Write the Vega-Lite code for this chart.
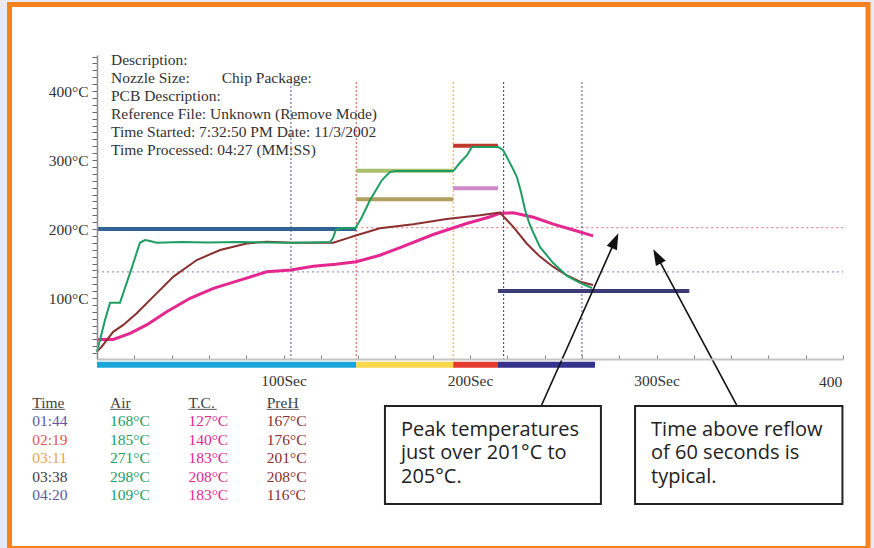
{
  "$schema": "https://vega.github.io/schema/vega-lite/v6.json",
  "width": 746,
  "height": 304,
  "autosize": {"type": "none"},
  "padding": {"left": 97, "top": 55, "right": 31, "bottom": 189},
  "background": "#e9e9f3",
  "config": {"view": {"stroke": null}, "font": "Liberation Serif", "axis": {"labelOverlap": false, "labelFlush": false, "labelBound": false}},
  "datasets": {
    "curves": [
      {"series": "Air", "t": 0, "temp": 22}, {"series": "Air", "t": 1.6, "temp": 39}, {"series": "Air", "t": 4.3, "temp": 68}, {"series": "Air", "t": 7, "temp": 93}, {"series": "Air", "t": 12.3, "temp": 93}, {"series": "Air", "t": 17.7, "temp": 136}, {"series": "Air", "t": 23, "temp": 180}, {"series": "Air", "t": 25.7, "temp": 184}, {"series": "Air", "t": 28.4, "temp": 182.5}, {"series": "Air", "t": 32, "temp": 180}, {"series": "Air", "t": 45, "temp": 181}, {"series": "Air", "t": 60, "temp": 180.5}, {"series": "Air", "t": 75, "temp": 181}, {"series": "Air", "t": 90, "temp": 180.5}, {"series": "Air", "t": 105, "temp": 180}, {"series": "Air", "t": 115, "temp": 180.5}, {"series": "Air", "t": 125, "temp": 181}, {"series": "Air", "t": 126.5, "temp": 187}, {"series": "Air", "t": 128, "temp": 198.5}, {"series": "Air", "t": 130.3, "temp": 201}, {"series": "Air", "t": 138.5, "temp": 201}, {"series": "Air", "t": 142, "temp": 217}, {"series": "Air", "t": 146.4, "temp": 242}, {"series": "Air", "t": 152.8, "temp": 271}, {"series": "Air", "t": 157, "temp": 282.5}, {"series": "Air", "t": 159.8, "temp": 284}, {"series": "Air", "t": 175, "temp": 284}, {"series": "Air", "t": 191, "temp": 284}, {"series": "Air", "t": 194.6, "temp": 296}, {"series": "Air", "t": 198.4, "temp": 307}, {"series": "Air", "t": 201, "temp": 319}, {"series": "Air", "t": 215, "temp": 319}, {"series": "Air", "t": 217.7, "temp": 314.5}, {"series": "Air", "t": 219.8, "temp": 304}, {"series": "Air", "t": 222.5, "temp": 290}, {"series": "Air", "t": 225.2, "temp": 275}, {"series": "Air", "t": 227.3, "temp": 254}, {"series": "Air", "t": 229.5, "temp": 228}, {"series": "Air", "t": 231.6, "temp": 210}, {"series": "Air", "t": 233.2, "temp": 199}, {"series": "Air", "t": 237.5, "temp": 174}, {"series": "Air", "t": 244.5, "temp": 151}, {"series": "Air", "t": 252, "temp": 132}, {"series": "Air", "t": 259, "temp": 122}, {"series": "Air", "t": 265.4, "temp": 114.5},
      {"series": "PreH", "t": 0, "temp": 22}, {"series": "PreH", "t": 0.7, "temp": 24.6}, {"series": "PreH", "t": 2.5, "temp": 29.4}, {"series": "PreH", "t": 5.2, "temp": 39}, {"series": "PreH", "t": 8.7, "temp": 51}, {"series": "PreH", "t": 14.1, "temp": 61}, {"series": "PreH", "t": 21.3, "temp": 78}, {"series": "PreH", "t": 30.2, "temp": 102}, {"series": "PreH", "t": 41, "temp": 131}, {"series": "PreH", "t": 53.5, "temp": 155}, {"series": "PreH", "t": 66, "temp": 169.6}, {"series": "PreH", "t": 80.3, "temp": 179}, {"series": "PreH", "t": 91, "temp": 181.6}, {"series": "PreH", "t": 105, "temp": 180}, {"series": "PreH", "t": 116, "temp": 180}, {"series": "PreH", "t": 126.7, "temp": 180}, {"series": "PreH", "t": 134, "temp": 186.5}, {"series": "PreH", "t": 139.2, "temp": 191}, {"series": "PreH", "t": 151.7, "temp": 201}, {"series": "PreH", "t": 169.6, "temp": 207}, {"series": "PreH", "t": 187.5, "temp": 214.5}, {"series": "PreH", "t": 205.4, "temp": 220}, {"series": "PreH", "t": 216, "temp": 224}, {"series": "PreH", "t": 223.2, "temp": 203}, {"series": "PreH", "t": 230.4, "temp": 179}, {"series": "PreH", "t": 237.5, "temp": 160}, {"series": "PreH", "t": 244.7, "temp": 145}, {"series": "PreH", "t": 251.8, "temp": 133}, {"series": "PreH", "t": 259, "temp": 123.6}, {"series": "PreH", "t": 266, "temp": 118.8},
      {"series": "T.C.", "t": 0, "temp": 40}, {"series": "T.C.", "t": 8.7, "temp": 40}, {"series": "T.C.", "t": 17.7, "temp": 48.8}, {"series": "T.C.", "t": 26.6, "temp": 61}, {"series": "T.C.", "t": 37.4, "temp": 80}, {"series": "T.C.", "t": 49.9, "temp": 99.6}, {"series": "T.C.", "t": 62.4, "temp": 114}, {"series": "T.C.", "t": 76.7, "temp": 126}, {"series": "T.C.", "t": 91, "temp": 138}, {"series": "T.C.", "t": 104, "temp": 140.6}, {"series": "T.C.", "t": 116, "temp": 146}, {"series": "T.C.", "t": 128, "temp": 149}, {"series": "T.C.", "t": 139, "temp": 152.6}, {"series": "T.C.", "t": 151.7, "temp": 162}, {"series": "T.C.", "t": 162.5, "temp": 173}, {"series": "T.C.", "t": 180.3, "temp": 192}, {"series": "T.C.", "t": 198.2, "temp": 208}, {"series": "T.C.", "t": 210, "temp": 217}, {"series": "T.C.", "t": 216, "temp": 222.7}, {"series": "T.C.", "t": 223.2, "temp": 223.6}, {"series": "T.C.", "t": 234, "temp": 217}, {"series": "T.C.", "t": 244.7, "temp": 207}, {"series": "T.C.", "t": 255.4, "temp": 198.6}, {"series": "T.C.", "t": 266, "temp": 190}
    ],
    "setpoints": [
      {"name": "Preheat", "start": 0, "end": 139, "temp": 200},
      {"name": "Soak Air", "start": 139, "end": 191, "temp": 284.5},
      {"name": "Soak T.C.", "start": 139, "end": 191, "temp": 243},
      {"name": "Reflow Air", "start": 191, "end": 215, "temp": 320.7},
      {"name": "Reflow T.C.", "start": 191, "end": 215, "temp": 259},
      {"name": "Cool", "start": 215, "end": 317.6, "temp": 110}
    ],
    "zones": [
      {"zone": "Preheat", "start": 0, "end": 139},
      {"zone": "Soak", "start": 139, "end": 191},
      {"zone": "Reflow", "start": 191, "end": 215},
      {"zone": "Cool", "start": 215, "end": 267}
    ],
    "markers": [
      {"time": "01:44", "t": 104}, {"time": "02:19", "t": 139}, {"time": "03:11", "t": 191}, {"time": "03:38", "t": 218}, {"time": "04:20", "t": 260}
    ],
    "readings": [
      {"row": 1, "time": "01:44", "air": "168°C", "tc": "127°C", "preh": "167°C"},
      {"row": 2, "time": "02:19", "air": "185°C", "tc": "140°C", "preh": "176°C"},
      {"row": 3, "time": "03:11", "air": "271°C", "tc": "183°C", "preh": "201°C"},
      {"row": 4, "time": "03:38", "air": "298°C", "tc": "208°C", "preh": "208°C"},
      {"row": 5, "time": "04:20", "air": "109°C", "tc": "183°C", "preh": "116°C"}
    ]
  },
  "resolve": {"scale": {"y": "independent"}},
  "layer": [
    {
      "layer": [
        {
          "data": {"values": [{}]},
          "mark": {"type": "rect", "fill": "white", "stroke": "#f5821f", "strokeWidth": 5},
          "encoding": {
            "x": {"datum": -46.9, "type": "quantitative", "scale": {"domain": [0, 400], "nice": false, "zero": false}, "title": null,
              "axis": {"values": [0, 20, 40, 60, 80, 100, 120, 140, 160, 180, 200, 220, 240, 260, 280, 300, 320, 340, 360, 380, 400],
                "tickCount": 200,
                "labelExpr": "datum.value % 100 == 0 && datum.value > 0 && datum.value < 400 ? datum.value + 'Sec' : ''",
                "labelFontSize": {"condition": {"test": "datum.value % 100 == 0 && datum.value > 0 && datum.value < 400", "value": 15.5}, "value": 0},
                "tickSize": -4, "tickColor": "#8a8a8a", "tickWidth": 1, "domainColor": "#c4c4c4", "domainWidth": 2,
                "labelColor": "#333", "labelFont": "Liberation Serif", "labelPadding": 18.7,
                "labelFlush": false, "labelOverlap": false, "labelBound": false, "grid": false, "zindex": 1}},
            "x2": {"datum": 413.4},
            "y": {"datum": 525.4, "type": "quantitative", "scale": {"domain": [11.6, 452.2], "nice": false, "zero": false}, "title": null,
              "axis": {"values": [20, 30, 40, 50, 60, 70, 80, 90, 100, 110, 120, 130, 140, 150, 160, 170, 180, 190, 200, 210, 220, 230, 240, 250, 260, 270, 280, 290, 300, 310, 320, 330, 340, 350, 360, 370, 380, 390, 400, 410, 420, 430, 440, 450],
                "tickCount": 200,
                "labelExpr": "datum.value % 100 == 0 ? datum.value + '°C' : ''",
                "labelFontSize": {"condition": {"test": "datum.value % 100 == 0", "value": 15.5}, "value": 0},
                "tickSize": 5, "tickColor": "#6a6a6a", "tickWidth": 1, "domainColor": "#8a8a8a", "domainWidth": 1.5,
                "labelColor": "#333", "labelFont": "Liberation Serif", "labelPadding": 4,
                "labelFlush": false, "labelOverlap": false, "labelBound": false, "grid": false, "zindex": 1}},
            "y2": {"datum": -263}
          }
        },
        {
          "data": {"name": "zones"},
          "mark": {"type": "rect"},
          "encoding": {
            "x": {"field": "start", "type": "quantitative", "scale": {"domain": [0, 400], "nice": false, "zero": false}, "title": null},
            "x2": {"field": "end"},
            "y": {"datum": 7.7, "scale": {"domain": [11.6, 452.2], "nice": false, "zero": false}, "title": null},
            "y2": {"datum": -1.0},
            "fill": {"field": "zone", "type": "nominal", "scale": {"domain": ["Preheat", "Soak", "Reflow", "Cool"], "range": ["#1ba6d9", "#f8d74a", "#e5392e", "#33338c"]}, "legend": null}
          }
        },
        {
          "data": {"values": [{}]},
          "mark": {"type": "rule", "color": "#9a9ad6", "strokeDash": [2, 3], "strokeWidth": 1.2},
          "encoding": {
            "x": {"datum": 0, "scale": {"domain": [0, 400], "nice": false, "zero": false}, "title": null},
            "x2": {"datum": 400},
            "y": {"datum": 138, "scale": {"domain": [11.6, 452.2], "nice": false, "zero": false}, "title": null}
          }
        },
        {
          "data": {"values": [{}]},
          "mark": {"type": "rule", "color": "#f08a8a", "strokeDash": [2, 3], "strokeWidth": 1.2},
          "encoding": {
            "x": {"datum": 139, "scale": {"domain": [0, 400], "nice": false, "zero": false}, "title": null},
            "x2": {"datum": 400},
            "y": {"datum": 201.9, "scale": {"domain": [11.6, 452.2], "nice": false, "zero": false}, "title": null}
          }
        },
        {
          "data": {"name": "markers"},
          "mark": {"type": "rule", "strokeDash": [2, 2], "strokeWidth": 1.2, "opacity": 0.85},
          "encoding": {
            "x": {"field": "t", "type": "quantitative", "scale": {"domain": [0, 400], "nice": false, "zero": false}, "title": null},
            "y": {"datum": 413, "scale": {"domain": [11.6, 452.2], "nice": false, "zero": false}, "title": null},
            "y2": {"datum": 11.6},
            "color": {"field": "time", "type": "nominal", "scale": {"domain": ["01:44", "02:19", "03:11", "03:38", "04:20"], "range": ["#5a5aa6", "#e5574a", "#f0a545", "#3c3c4a", "#5a5aa6"]}, "legend": null}
          }
        },
        {
          "data": {"name": "setpoints"},
          "mark": {"type": "rule", "strokeWidth": 4},
          "encoding": {
            "x": {"field": "start", "type": "quantitative", "scale": {"domain": [0, 400], "nice": false, "zero": false}, "title": null},
            "x2": {"field": "end"},
            "y": {"field": "temp", "type": "quantitative", "scale": {"domain": [11.6, 452.2], "nice": false, "zero": false}, "title": null},
            "stroke": {"field": "name", "type": "nominal", "scale": {"domain": ["Preheat", "Soak Air", "Soak T.C.", "Reflow Air", "Reflow T.C.", "Cool"], "range": ["#2f6494", "#a9bf6c", "#b0a060", "#c0392b", "#cf88c8", "#3b3b7a"]}, "legend": null}
          }
        },
        {
          "data": {"name": "curves"},
          "transform": [{"filter": "datum.series == 'T.C.'"}],
          "mark": {"type": "line", "color": "#e4288f", "strokeWidth": 3},
          "encoding": {
            "x": {"field": "t", "type": "quantitative", "scale": {"domain": [0, 400], "nice": false, "zero": false}, "title": null},
            "y": {"field": "temp", "type": "quantitative", "scale": {"domain": [11.6, 452.2], "nice": false, "zero": false}, "title": null}
          }
        },
        {
          "data": {"name": "curves"},
          "transform": [{"filter": "datum.series == 'PreH'"}],
          "mark": {"type": "line", "color": "#8c2f2f", "strokeWidth": 2},
          "encoding": {
            "x": {"field": "t", "type": "quantitative", "scale": {"domain": [0, 400], "nice": false, "zero": false}, "title": null},
            "y": {"field": "temp", "type": "quantitative", "scale": {"domain": [11.6, 452.2], "nice": false, "zero": false}, "title": null}
          }
        },
        {
          "data": {"name": "curves"},
          "transform": [{"filter": "datum.series == 'Air'"}],
          "mark": {"type": "line", "color": "#1e9e62", "strokeWidth": 2},
          "encoding": {
            "x": {"field": "t", "type": "quantitative", "scale": {"domain": [0, 400], "nice": false, "zero": false}, "title": null},
            "y": {"field": "temp", "type": "quantitative", "scale": {"domain": [11.6, 452.2], "nice": false, "zero": false}, "title": null}
          }
        },
        {
          "data": {"values": [{}]},
          "mark": {"type": "text", "text": "400Sec", "align": "left", "baseline": "middle", "limit": 28, "ellipsis": " ", "fontSize": 15.5, "color": "#333"},
          "encoding": {
            "x": {"datum": 387.1, "scale": {"domain": [0, 400], "nice": false, "zero": false}, "title": null},
            "y": {"datum": -21.3, "scale": {"domain": [11.6, 452.2], "nice": false, "zero": false}, "title": null}
          }
        },
        {
          "data": {"values": [{}]},
          "mark": {"type": "text", "text": ["Description:", "Nozzle Size:", "PCB Description:", "Reference File: Unknown (Remove Mode)", "Time Started: 7:32:50 PM  Date: 11/3/2002", "Time Processed: 04:27 (MM:SS)"], "align": "left", "baseline": "middle", "lineHeight": 18, "fontSize": 15.5, "color": "#333"},
          "encoding": {
            "x": {"datum": 7.5, "scale": {"domain": [0, 400], "nice": false, "zero": false}, "title": null},
            "y": {"datum": 444.9, "scale": {"domain": [11.6, 452.2], "nice": false, "zero": false}, "title": null}
          }
        },
        {
          "data": {"values": [{}]},
          "mark": {"type": "text", "text": "Chip Package:", "align": "left", "baseline": "middle", "fontSize": 15.5, "color": "#333"},
          "encoding": {
            "x": {"datum": 66.9, "scale": {"domain": [0, 400], "nice": false, "zero": false}, "title": null},
            "y": {"datum": 419.3, "scale": {"domain": [11.6, 452.2], "nice": false, "zero": false}, "title": null}
          }
        },
        {
          "data": {"values": [{}]},
          "mark": {"type": "rect", "fill": "white", "stroke": "#222", "strokeWidth": 2},
          "encoding": {
            "x": {"datum": 154.4, "scale": {"domain": [0, 400], "nice": false, "zero": false}, "title": null},
            "x2": {"datum": 270.2},
            "y": {"datum": -56.5, "scale": {"domain": [11.6, 452.2], "nice": false, "zero": false}, "title": null},
            "y2": {"datum": -198.6}
          }
        },
        {
          "data": {"values": [{}]},
          "mark": {"type": "rect", "fill": "white", "stroke": "#222", "strokeWidth": 2},
          "encoding": {
            "x": {"datum": 288.5, "scale": {"domain": [0, 400], "nice": false, "zero": false}, "title": null},
            "x2": {"datum": 399.7},
            "y": {"datum": -56.5, "scale": {"domain": [11.6, 452.2], "nice": false, "zero": false}, "title": null},
            "y2": {"datum": -198.6}
          }
        },
        {
          "data": {"values": [{}]},
          "mark": {"type": "text", "text": ["Peak temperatures", "just over 201°C to", "205°C."], "font": "Open Sans", "fontSize": 20, "lineHeight": 23.3, "align": "left", "baseline": "middle", "color": "#222"},
          "encoding": {
            "x": {"datum": 163.0, "scale": {"domain": [0, 400], "nice": false, "zero": false}, "title": null},
            "y": {"datum": -91.3, "scale": {"domain": [11.6, 452.2], "nice": false, "zero": false}, "title": null}
          }
        },
        {
          "data": {"values": [{}]},
          "mark": {"type": "text", "text": ["Time above reflow", "of 60 seconds is", "typical."], "font": "Open Sans", "fontSize": 20, "lineHeight": 23.3, "align": "left", "baseline": "middle", "color": "#222"},
          "encoding": {
            "x": {"datum": 297.1, "scale": {"domain": [0, 400], "nice": false, "zero": false}, "title": null},
            "y": {"datum": -91.3, "scale": {"domain": [11.6, 452.2], "nice": false, "zero": false}, "title": null}
          }
        },
        {
          "data": {"values": [{}]},
          "mark": {"type": "rule", "color": "#111", "strokeWidth": 1.6},
          "encoding": {
            "x": {"datum": 238.4, "scale": {"domain": [0, 400], "nice": false, "zero": false}, "title": null},
            "x2": {"datum": 277.8},
            "y": {"datum": -55.1, "scale": {"domain": [11.6, 452.2], "nice": false, "zero": false}, "title": null},
            "y2": {"datum": 183.2}
          }
        },
        {
          "data": {"values": [{}]},
          "mark": {"type": "rule", "color": "#111", "strokeWidth": 1.6},
          "encoding": {
            "x": {"datum": 343.0, "scale": {"domain": [0, 400], "nice": false, "zero": false}, "title": null},
            "x2": {"datum": 300.3},
            "y": {"datum": -55.1, "scale": {"domain": [11.6, 452.2], "nice": false, "zero": false}, "title": null},
            "y2": {"datum": 160.4}
          }
        },
        {
          "data": {"values": [{}]},
          "mark": {"type": "point", "shape": "M0,-1L-0.7,1L0.7,1Z", "filled": true, "color": "#111", "opacity": 1, "size": 256, "angle": 24},
          "encoding": {
            "x": {"datum": 277.8, "scale": {"domain": [0, 400], "nice": false, "zero": false}, "title": null},
            "y": {"datum": 183.2, "scale": {"domain": [11.6, 452.2], "nice": false, "zero": false}, "title": null}
          }
        },
        {
          "data": {"values": [{}]},
          "mark": {"type": "point", "shape": "M0,-1L-0.7,1L0.7,1Z", "filled": true, "color": "#111", "opacity": 1, "size": 256, "angle": 331.8},
          "encoding": {
            "x": {"datum": 300.3, "scale": {"domain": [0, 400], "nice": false, "zero": false}, "title": null},
            "y": {"datum": 160.4, "scale": {"domain": [11.6, 452.2], "nice": false, "zero": false}, "title": null}
          }
        }
      ]
    },
    {
      "data": {"name": "readings"},
      "layer": [
        {
          "mark": {"type": "text", "align": "left", "baseline": "middle", "fontSize": 15.5},
          "encoding": {
            "x": {"datum": -34.7, "scale": {"domain": [0, 400], "nice": false, "zero": false}, "title": null},
            "y": {"field": "row", "type": "quantitative", "scale": {"domain": [0, 5], "range": [347.7, 440], "nice": false, "zero": false}, "axis": null},
            "text": {"field": "time"},
            "color": {"field": "time", "type": "nominal", "scale": {"domain": ["01:44", "02:19", "03:11", "03:38", "04:20"], "range": ["#5a5aa6", "#e5574a", "#f0a545", "#3c3c4a", "#5a5aa6"]}, "legend": null}
          }
        },
        {
          "mark": {"type": "text", "align": "left", "baseline": "middle", "fontSize": 15.5, "color": "#1e9e62"},
          "encoding": {
            "x": {"datum": 7.0, "scale": {"domain": [0, 400], "nice": false, "zero": false}, "title": null},
            "y": {"field": "row", "type": "quantitative", "scale": {"domain": [0, 5], "range": [347.7, 440], "nice": false, "zero": false}, "axis": null},
            "text": {"field": "air"}
          }
        },
        {
          "mark": {"type": "text", "align": "left", "baseline": "middle", "fontSize": 15.5, "color": "#e4288f"},
          "encoding": {
            "x": {"datum": 49.0, "scale": {"domain": [0, 400], "nice": false, "zero": false}, "title": null},
            "y": {"field": "row", "type": "quantitative", "scale": {"domain": [0, 5], "range": [347.7, 440], "nice": false, "zero": false}, "axis": null},
            "text": {"field": "tc"}
          }
        },
        {
          "mark": {"type": "text", "align": "left", "baseline": "middle", "fontSize": 15.5, "color": "#8c2f2f"},
          "encoding": {
            "x": {"datum": 91.0, "scale": {"domain": [0, 400], "nice": false, "zero": false}, "title": null},
            "y": {"field": "row", "type": "quantitative", "scale": {"domain": [0, 5], "range": [347.7, 440], "nice": false, "zero": false}, "axis": null},
            "text": {"field": "preh"}
          }
        },
        {
          "data": {"values": [{}]},
          "mark": {"type": "text", "text": "Time", "align": "left", "baseline": "middle", "fontSize": 15.5, "color": "#444"},
          "encoding": {
            "x": {"datum": -34.7, "scale": {"domain": [0, 400], "nice": false, "zero": false}, "title": null},
            "y": {"datum": 0, "scale": {"domain": [0, 5], "range": [347.7, 440], "nice": false, "zero": false}, "axis": null}
          }
        },
        {
          "data": {"values": [{}]},
          "mark": {"type": "text", "text": "Air", "align": "left", "baseline": "middle", "fontSize": 15.5, "color": "#444"},
          "encoding": {
            "x": {"datum": 7.0, "scale": {"domain": [0, 400], "nice": false, "zero": false}, "title": null},
            "y": {"datum": 0, "scale": {"domain": [0, 5], "range": [347.7, 440], "nice": false, "zero": false}, "axis": null}
          }
        },
        {
          "data": {"values": [{}]},
          "mark": {"type": "text", "text": "T.C.", "align": "left", "baseline": "middle", "fontSize": 15.5, "color": "#444"},
          "encoding": {
            "x": {"datum": 49.0, "scale": {"domain": [0, 400], "nice": false, "zero": false}, "title": null},
            "y": {"datum": 0, "scale": {"domain": [0, 5], "range": [347.7, 440], "nice": false, "zero": false}, "axis": null}
          }
        },
        {
          "data": {"values": [{}]},
          "mark": {"type": "text", "text": "PreH", "align": "left", "baseline": "middle", "fontSize": 15.5, "color": "#444"},
          "encoding": {
            "x": {"datum": 91.0, "scale": {"domain": [0, 400], "nice": false, "zero": false}, "title": null},
            "y": {"datum": 0, "scale": {"domain": [0, 5], "range": [347.7, 440], "nice": false, "zero": false}, "axis": null}
          }
        },
        {
          "data": {"values": [{}]},
          "mark": {"type": "rule", "color": "#555", "strokeWidth": 1},
          "encoding": {
            "x": {"datum": -34.7, "scale": {"domain": [0, 400], "nice": false, "zero": false}, "title": null},
            "x2": {"datum": -17.2},
            "y": {"datum": 0.36, "scale": {"domain": [0, 5], "range": [347.7, 440], "nice": false, "zero": false}, "axis": null}
          }
        },
        {
          "data": {"values": [{}]},
          "mark": {"type": "rule", "color": "#555", "strokeWidth": 1},
          "encoding": {
            "x": {"datum": 7.0, "scale": {"domain": [0, 400], "nice": false, "zero": false}, "title": null},
            "x2": {"datum": 18.2},
            "y": {"datum": 0.36, "scale": {"domain": [0, 5], "range": [347.7, 440], "nice": false, "zero": false}, "axis": null}
          }
        },
        {
          "data": {"values": [{}]},
          "mark": {"type": "rule", "color": "#555", "strokeWidth": 1},
          "encoding": {
            "x": {"datum": 49.0, "scale": {"domain": [0, 400], "nice": false, "zero": false}, "title": null},
            "x2": {"datum": 64.2},
            "y": {"datum": 0.36, "scale": {"domain": [0, 5], "range": [347.7, 440], "nice": false, "zero": false}, "axis": null}
          }
        },
        {
          "data": {"values": [{}]},
          "mark": {"type": "rule", "color": "#555", "strokeWidth": 1},
          "encoding": {
            "x": {"datum": 91.0, "scale": {"domain": [0, 400], "nice": false, "zero": false}, "title": null},
            "x2": {"datum": 108.5},
            "y": {"datum": 0.36, "scale": {"domain": [0, 5], "range": [347.7, 440], "nice": false, "zero": false}, "axis": null}
          }
        }
      ]
    }
  ]
}
